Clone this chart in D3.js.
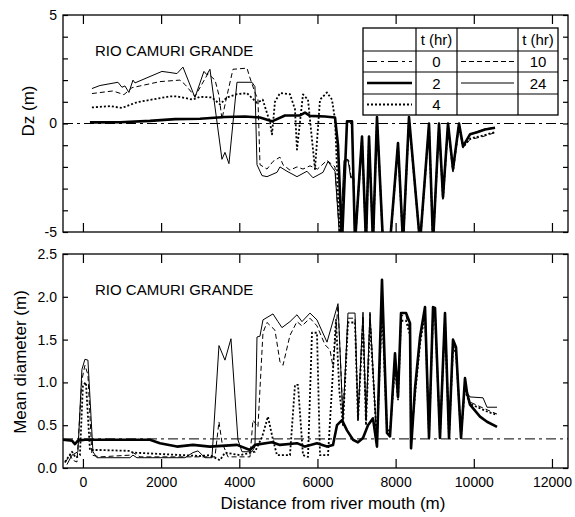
<!DOCTYPE html>
<html><head><meta charset="utf-8">
<script src="https://cdn.jsdelivr.net/npm/d3@7"></script>
<style>
body{margin:0;background:#fff}
svg{display:block}
text{font-family:Arial,"Liberation Sans",Helvetica,sans-serif;fill:#000}
</style>
</head><body>
<svg id="chart" width="575" height="517"></svg>
<script>
// ---------- data ----------
const distTicks = [0, 2000, 4000, 6000, 8000, 10000, 12000];
const distTickLabels = ["0", "2000", "4000", "6000", "8000", "10000", "12000"];
const dzTicks = [-5, -4, -3, -2, -1, 0, 1, 2, 3, 4, 5];
const dzLabelTicks = [-5, 0, 5];
const dzTickLabels = ["-5", "0", "5"];
const diamTicks = [0, 0.5, 1, 1.5, 2, 2.5];
const diamTickLabels = ["0.0", "0.5", "1.0", "1.5", "2.0", "2.5"];
const legendHours = ["0", "2", "4", "10", "24"];
const panelTitle = "RIO CAMURI GRANDE";

// Dz (m) vs distance (m)
const dz_t0 = [[-510, 0], [12410, 0]];
const dz_t2 = [[179,0.05],[950,0.06],[1715,0.12],[2355,0.2],[2994,0.22],[3634,0.3],[4146,0.32],[4529,0.28],[4837,0.1],[5169,0.37],[5553,0.37],[5681,0.5],[5809,0.35],[6193,0.32],[6449,0.28],[6526,-1.0],[6628,-5.5],[6756,0.1],[6884,0.1],[6961,-5.5],[7140,-0.6],[7242,-5.5],[7319,-0.6],[7421,-5.5],[7523,0.3],[7677,-5.5],[7856,-5.5],[8061,-0.9],[8189,-5.5],[8342,0.3],[8624,-5.5],[8854,0],[8957,-5.5],[9110,0],[9212,-3.4],[9340,0],[9468,-2.1],[9622,0],[9724,-1.05],[9903,-0.5],[10083,-0.4],[10287,-0.28],[10543,-0.2]];
const dz_t4 = [[230,0.74],[691,0.8],[998,0.72],[1382,0.98],[2226,1.25],[2405,1.25],[2815,1.1],[2994,1.23],[3301,1.2],[3506,0.88],[3685,1.2],[3941,1.35],[4197,1.4],[4453,0.95],[4600,1.1],[4785,0.05],[4837,-0.5],[4913,1.0],[5041,1.4],[5297,1.35],[5425,0.65],[5476,-1.2],[5630,1.34],[5758,1.1],[5860,-0.74],[5937,-2.1],[6065,1.1],[6244,1.43],[6372,1.1],[6449,0.18],[6577,-5.5],[6961,-5.5],[7140,-0.7],[7242,-5.5],[7319,-0.7],[7421,-5.5],[7523,0.2],[7677,-5.5],[7856,-5.5],[8061,-1.0],[8189,-5.5],[8342,0.2],[8624,-5.5],[8854,-0.1],[8957,-5.5],[9110,-0.1],[9212,-3.5],[9340,-0.1],[9468,-2.2],[9622,-0.1],[9724,-1.1],[9903,-0.7],[10236,-0.55],[10543,-0.4]];
const dz_t10 = [[230,1.38],[768,1.5],[1049,1.33],[1254,1.65],[1970,1.93],[2482,2.0],[2610,1.8],[2866,1.25],[3199,2.3],[3380,2.0],[3480,1.3],[3557,0.2],[3650,1.0],[3839,2.5],[4197,2.55],[4274,2.1],[4401,1.43],[4478,1.1],[4500,-0.15],[4530,-1.9],[4709,-2.1],[4862,-1.75],[5041,-1.55],[5118,-1.9],[5297,-2.15],[5476,-2.0],[5630,-2.1],[5809,-1.95],[6000,-2.1],[6244,-1.7],[6449,-2.0],[6577,-5.5],[6700,-1.75],[6800,-1.7],[6860,-2.45],[6930,-2.45],[6961,-5.5],[7140,-0.65],[7242,-5.5],[7319,-0.65],[7421,-5.5],[7523,0.25],[7677,-5.5],[7856,-5.5],[8061,-0.95],[8189,-5.5],[8342,0.25],[8624,-5.5],[8854,-0.05],[8957,-5.5],[9110,-0.05],[9212,-3.45],[9340,-0.05],[9468,-2.15],[9622,-0.05],[9724,-1.1],[9903,-0.74],[10236,-0.6],[10543,-0.42]];
const dz_t24 = [[230,1.61],[435,1.75],[896,1.9],[998,1.67],[1075,1.73],[1177,1.43],[1280,2.0],[1331,1.87],[2022,2.4],[2226,2.35],[2405,2.3],[2559,2.6],[2866,1.2],[3096,2.4],[3170,2.25],[3250,2.5],[3557,-1.65],[3634,-1.33],[3736,-1.85],[3941,1.9],[4325,1.9],[4401,1.7],[4453,-1.9],[4581,-2.4],[4709,-2.45],[4965,-2.25],[5041,-2.0],[5220,-2.2],[5476,-2.45],[5732,-2.2],[5886,-2.5],[6142,-2.25],[6270,-1.75],[6449,-2.2],[6577,-5.5],[6680,-1.7],[6780,-1.65],[6850,-2.5],[6910,-2.5],[6961,-5.5],[7140,-0.6],[7242,-5.5],[7319,-0.6],[7421,-5.5],[7523,0.3],[7677,-5.5],[7856,-5.5],[8061,-0.9],[8189,-5.5],[8342,0.3],[8624,-5.5],[8854,0],[8957,-5.5],[9110,0],[9212,-3.4],[9340,0],[9468,-2.1],[9622,0],[9724,-1.05],[9903,-0.5],[10083,-0.38],[10287,-0.25],[10543,-0.18]];

// Mean diameter (m) vs distance (m)
const diam_t0 = [[-510, 0.34], [12410, 0.34]];
const diam_t2 = [[-510,0.33],[-281,0.32],[-205,0.28],[-128,0.32],[51,0.33],[1715,0.33],[1970,0.29],[2405,0.25],[2815,0.27],[3250,0.25],[3941,0.27],[4274,0.21],[4401,0.27],[4837,0.3],[5041,0.27],[5476,0.29],[5681,0.25],[5988,0.29],[6244,0.25],[6398,0.27],[6500,0.5],[6628,0.56],[6756,0.44],[6910,0.33],[7037,0.3],[7165,0.35],[7293,0.5],[7421,0.58],[7523,0.25],[7651,2.2],[7779,0.41],[7856,0.37],[7984,1.34],[8061,0.83],[8138,1.81],[8266,1.81],[8368,1.69],[8394,0.23],[8496,0.93],[8624,1.53],[8752,1.88],[8854,0.35],[8957,1.88],[9008,1.87],[9135,0.35],[9263,1.81],[9366,0.35],[9468,1.5],[9545,1.41],[9673,0.35],[9775,1.05],[9826,0.88],[9903,0.74],[10159,0.6],[10338,0.54],[10594,0.48]];
const diam_t4 = [[-460,0.07],[-281,0.19],[-180,0.12],[-77,0.15],[0,0.97],[77,1.0],[179,0.21],[435,0.21],[1203,0.2],[1280,0.18],[2994,0.14],[3250,0.15],[3506,0.09],[3634,0.18],[4017,0.15],[4401,0.19],[4581,0.36],[4734,0.6],[4862,0.33],[4965,0.15],[5297,0.15],[5425,0.97],[5502,0.97],[5630,0.15],[5758,0.13],[5860,1.58],[5988,1.58],[6065,0.15],[6270,0.15],[6474,1.73],[6560,0.9],[6653,0.5],[6781,1.7],[6961,1.7],[7037,0.55],[7165,1.7],[7242,0.5],[7344,1.7],[7523,0.3],[7651,1.9],[7779,0.45],[7856,0.42],[7984,1.2],[8061,0.8],[8138,1.72],[8266,1.72],[8368,1.55],[8394,0.35],[8496,0.85],[8624,1.45],[8752,1.8],[8854,0.37],[8957,1.8],[9008,1.8],[9135,0.37],[9263,1.75],[9366,0.37],[9468,1.4],[9545,1.35],[9673,0.37],[9775,0.95],[9826,0.84],[9903,0.75],[10338,0.66],[10594,0.62]];
const diam_t10 = [[-460,0.06],[-333,0.15],[-256,0.09],[-153,0.07],[-26,1.03],[51,1.2],[128,1.09],[230,0.15],[435,0.13],[1203,0.15],[1280,0.18],[1459,0.13],[3378,0.13],[3480,0.54],[3557,0.3],[3710,0.13],[4274,0.13],[4350,0.56],[4478,0.48],[4606,1.58],[4709,1.7],[4913,1.61],[5041,1.24],[5118,1.2],[5297,1.55],[5476,1.71],[5604,1.66],[5809,1.75],[5988,1.66],[6193,1.44],[6321,1.38],[6398,1.18],[6526,1.9],[6653,0.6],[6781,1.75],[6961,1.75],[7037,0.6],[7165,1.78],[7242,0.56],[7344,1.8],[7523,0.3],[7651,2.1],[7779,0.42],[7856,0.4],[7984,1.3],[8061,0.85],[8138,1.78],[8266,1.78],[8368,1.6],[8394,0.3],[8496,0.9],[8624,1.5],[8752,1.85],[8854,0.36],[8957,1.85],[9008,1.84],[9135,0.36],[9263,1.78],[9366,0.36],[9468,1.45],[9545,1.38],[9673,0.36],[9775,1.0],[9826,0.86],[9903,0.77],[10338,0.68],[10594,0.63]];
const diam_t24 = [[-409,0.04],[-281,0.15],[-128,0.19],[-26,1.15],[51,1.27],[128,1.26],[256,0.19],[358,0.12],[1203,0.12],[1280,0.15],[1382,0.12],[2610,0.12],[2815,0.18],[2943,0.2],[3122,0.12],[3301,0.12],[3480,1.43],[3634,1.26],[3787,1.51],[3966,0.33],[4069,0.19],[4325,0.19],[4401,0.25],[4453,1.53],[4529,1.54],[4606,1.73],[4862,1.8],[4990,1.71],[5092,1.64],[5297,1.71],[5476,1.79],[5604,1.71],[5809,1.81],[5988,1.73],[6244,1.47],[6526,1.92],[6653,0.56],[6781,1.81],[6961,1.81],[7037,0.58],[7165,1.82],[7242,0.56],[7344,1.82],[7523,0.25],[7651,2.2],[7779,0.41],[7856,0.37],[7984,1.34],[8061,0.83],[8138,1.81],[8266,1.81],[8368,1.69],[8394,0.23],[8496,0.93],[8624,1.53],[8752,1.88],[8854,0.35],[8957,1.88],[9008,1.87],[9135,0.35],[9263,1.81],[9366,0.35],[9468,1.5],[9545,1.41],[9673,0.35],[9775,1.05],[9826,0.88],[9903,0.83],[10236,0.82],[10338,0.71],[10594,0.71]];

// ---------- drawing ----------
const svg = d3.select("#chart");
const L = 63, R = 568;
const x = d3.scaleLinear().domain([-510, 12410]).range([L, R]);
const yTop = d3.scaleLinear().domain([-5, 5]).range([232, 15]);
const yBot = d3.scaleLinear().domain([0, 2.5]).range([468, 254]);

const styles = {
  t0:  {w: 1,   dash: "10,4,3,4"},
  t2:  {w: 2.6, dash: null},
  t4:  {w: 1.8, dash: "2,2"},
  t10: {w: 1,   dash: "5,3"},
  t24: {w: 1,   dash: null}
};

function panel(y, top, bottom, id, series, yMinor, yLabelVals, yLabels, showX) {
  const g = svg.append("g");
  svg.append("clipPath").attr("id", id).append("rect")
    .attr("x", L).attr("y", top).attr("width", R - L).attr("height", bottom - top);
  const line = d3.line().x(d => x(d[0])).y(d => y(d[1]));
  const lg = g.append("g").attr("clip-path", `url(#${id})`);
  series.forEach(s => {
    const st = styles[s.key];
    lg.append("path").datum(s.data).attr("d", line)
      .attr("fill", "none").attr("stroke", "#000")
      .attr("stroke-width", st.w).attr("stroke-linejoin", "round")
      .attr("stroke-dasharray", st.dash);
  });
  // axes
  const ax = [];
  ax.push(g.append("g").attr("transform", `translate(${L},0)`)
    .call(d3.axisLeft(y).tickValues(yMinor).tickSize(-5).tickFormat("")));
  ax.push(g.append("g").attr("transform", `translate(${R},0)`)
    .call(d3.axisRight(y).tickValues(yMinor).tickSize(-5).tickFormat("")));
  ax.push(g.append("g").attr("transform", `translate(${L},0)`)
    .call(d3.axisLeft(y).tickValues(yLabelVals).tickSize(0).tickPadding(6)
      .tickFormat((d, i) => yLabels[i])));
  ax.push(g.append("g").attr("transform", `translate(0,${top})`)
    .call(d3.axisTop(x).tickValues(distTicks).tickSize(-9).tickFormat("")));
  ax.push(g.append("g").attr("transform", `translate(0,${bottom})`)
    .call(d3.axisBottom(x).tickValues(distTicks).tickSize(-9).tickPadding(9)
      .tickFormat((d, i) => showX ? distTickLabels[i] : "")));
  ax.forEach(a => {
    a.select(".domain").remove();
    a.selectAll("line").attr("stroke", "#000").attr("stroke-width", 1.2);
    a.selectAll("text").attr("font-size", 14).attr("font-family", "Arial, 'Liberation Sans', sans-serif").attr("fill", "#000");
  });
  g.append("rect").attr("x", L).attr("y", top).attr("width", R - L).attr("height", bottom - top)
    .attr("fill", "none").attr("stroke", "#000").attr("stroke-width", 1.3);
  g.append("text").attr("x", 95).attr("y", top + 41).attr("font-size", 15).text(panelTitle);
  return g;
}

panel(yTop, 15, 232, "clipTop", [
  {key: "t0", data: dz_t0}, {key: "t24", data: dz_t24}, {key: "t10", data: dz_t10},
  {key: "t4", data: dz_t4}, {key: "t2", data: dz_t2}
], dzTicks, dzLabelTicks, dzTickLabels, false);

panel(yBot, 254, 468, "clipBot", [
  {key: "t0", data: diam_t0}, {key: "t24", data: diam_t24}, {key: "t10", data: diam_t10},
  {key: "t4", data: diam_t4}, {key: "t2", data: diam_t2}
], diamTicks, diamTicks, diamTickLabels, true);

// axis titles
svg.append("text").attr("transform", "translate(34,111) rotate(-90)")
  .attr("text-anchor", "middle").attr("font-size", 17).text("Dz (m)");
svg.append("text").attr("transform", "translate(26,362) rotate(-90)")
  .attr("text-anchor", "middle").attr("font-size", 17).text("Mean diameter (m)");
svg.append("text").attr("x", 333).attr("y", 509)
  .attr("text-anchor", "middle").attr("font-size", 17).text("Distance from river mouth (m)");

// legend table
const colX = [363, 416, 457, 518, 558];
const rowY = [28, 51, 72, 94, 115];
const leg = svg.append("g");
leg.append("rect").attr("x", colX[0]).attr("y", rowY[0])
  .attr("width", colX[4] - colX[0]).attr("height", rowY[4] - rowY[0])
  .attr("fill", "#fff").attr("stroke", "#000").attr("stroke-width", 1.3);
colX.slice(1, 4).forEach(cx => leg.append("line").attr("x1", cx).attr("x2", cx)
  .attr("y1", rowY[0]).attr("y2", rowY[4]).attr("stroke", "#000").attr("stroke-width", 1.2));
rowY.slice(1, 4).forEach(ry => leg.append("line").attr("x1", colX[0]).attr("x2", colX[4])
  .attr("y1", ry).attr("y2", ry).attr("stroke", "#000").attr("stroke-width", 1.2));
const mid = (a, b) => (a + b) / 2;
[[1], [3]].forEach(([c]) => leg.append("text").attr("x", mid(colX[c], colX[c + 1]))
  .attr("y", mid(rowY[0], rowY[1]) + 5).attr("text-anchor", "middle").attr("font-size", 15).text("t (hr)"));
const legItems = [
  {key: "t0", col: 0, row: 1, label: legendHours[0]},
  {key: "t2", col: 0, row: 2, label: legendHours[1]},
  {key: "t4", col: 0, row: 3, label: legendHours[2]},
  {key: "t10", col: 2, row: 1, label: legendHours[3]},
  {key: "t24", col: 2, row: 2, label: legendHours[4]}
];
legItems.forEach(it => {
  const st = styles[it.key];
  const cy = mid(rowY[it.row], rowY[it.row + 1]);
  leg.append("line").attr("x1", colX[it.col] + 4).attr("x2", colX[it.col + 1] - 4)
    .attr("y1", cy).attr("y2", cy).attr("stroke", "#000")
    .attr("stroke-width", st.w).attr("stroke-dasharray", st.dash);
  leg.append("text").attr("x", mid(colX[it.col + 1], colX[it.col + 2])).attr("y", cy + 5.5)
    .attr("text-anchor", "middle").attr("font-size", 15).text(it.label);
});
</script>
</body></html>
